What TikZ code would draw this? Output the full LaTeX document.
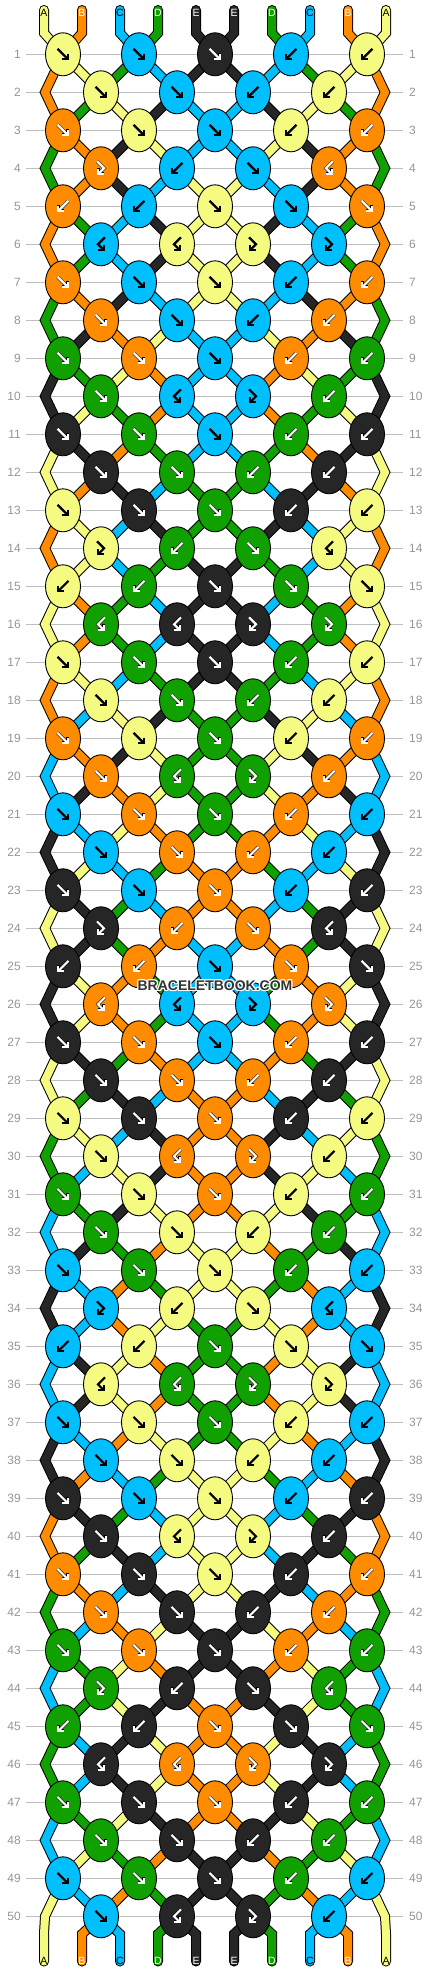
\documentclass[tikz,border=0pt]{standalone}
\usepackage{fontspec}
\setmainfont{Liberation Sans}
\usetikzlibrary{arrows.meta,shapes.geometric,calc}
\definecolor{cY}{RGB}{245,250,128}
\definecolor{cO}{RGB}{255,140,0}
\definecolor{cC}{RGB}{0,191,255}
\definecolor{cG}{RGB}{16,160,0}
\definecolor{cK}{RGB}{38,38,38}
\definecolor{rowgray}{RGB}{190,190,190}
\definecolor{numgray}{RGB}{150,150,150}
\def\rowsep{38}
\def\knotsep{76}
\tikzset{
	every node/.style={
		font=\fontsize{12}{14}\selectfont
	},
	knot/.style={
		shape=ellipse,
		draw=black,
		line width=0.9pt,
		minimum width=35pt,
		minimum height=43pt,
		inner sep=0pt
	},
	strand/.style={
		line width=1pt,
		double distance=8pt,
		line join=miter,
		line cap=round
	},
	arr/.style={
		line width=2.2pt,
		line join=miter,
		-{Straight Barb[length=4pt,width=8pt]}
	},
	inkY/.style={draw=black},
	inkC/.style={draw=black},
	inkO/.style={draw=white, preaction={draw=black, line width=3.2pt}},
	inkG/.style={draw=white, preaction={draw=black, line width=3.2pt}},
	inkK/.style={draw=white, preaction={draw=black, line width=3.2pt}},
	rowline/.style={draw=rowgray, line width=1pt},
	rownum/.style={text=numgray, inner sep=0pt},
	tag/.style={font=\fontsize{10.5}{12}\selectfont, inner sep=0pt},
	stamp/.style={font=\bfseries\fontsize{14}{16}\selectfont, inner sep=0pt}
}
\def\mirf{b}\def\mirb{f}\def\mirF{B}\def\mirB{F}
\newcommand\arrf[2]{\draw[arr,#2,shift={(#1)}] (-5.5,-5.5) -- (6,6);}
\newcommand\arrb[2]{\draw[arr,#2,shift={(#1)}] (5.5,-5.5) -- (-6,6);}
\newcommand\arrF[2]{\draw[arr,#2,shift={(#1)}] (-4,-7) -- (3,0) -- (-4,7);}
\newcommand\arrB[2]{\draw[arr,#2,shift={(#1)}] (4,-7) -- (-3,0) -- (4,7);}
\newcommand\drawknot[3]{%
	\node[knot, fill=c#2] (K-#1) at (P-#1) {};
	\csname arr#3\endcsname{K-#1}{ink#2}}

\begin{document}
\begin{tikzpicture}[x=1pt, y=-1pt]
	\path[use as bounding box, fill=white] (0,0) rectangle (430,1972);
	
	\foreach \p in {1,...,10}{
		\coordinate (T-\p) at (38*\p+6, 10);
		\coordinate (P-0-\p) at (38*\p+6, 33);
		\coordinate (P-51-\p) at (38*\p+6, 1934);
		\coordinate (B-\p) at (38*\p+6, 1961.5);
	}
	\foreach \row in {1,...,50}
	\foreach \p in {1,...,10}{
		\pgfmathsetmacro\px{mod(\row,2)==1 ? 215+(ceil(\p/2)-3)*\knotsep : (\p==1 ? 45 : (\p==10 ? 385 : 215+(floor(\p/2)-2.5)*\knotsep))}
		\coordinate (P-\row-\p) at (\px, 16.3+\rowsep*\row);
	}
	
	\foreach \row in {1,...,50}{
		\node[rownum, anchor=east] (L-\row) at (21, 16.3+\rowsep*\row) {\row};
		\node[rownum, anchor=west] (R-\row) at (409, 16.3+\rowsep*\row) {\row};
		\draw[rowline] ([xshift=5pt]L-\row.east) -- ([xshift=-6pt]R-\row.west);
	}
	
	\foreach \col/\s/\seq [evaluate=\s as \m using int(11-\s)] in {
		cY/1/{1,2,3,4,5,5,5,5,4,3,2,1,1,2,2,1,1,2,3,4,4,3,2,1,1,2,2,1,1,2,3,4,5,5,4,3,3,4,5,5,5,5,4,3,3,4,4,3,2,1,1},
		cO/2/{2,1,1,2,2,1,1,2,3,4,4,3,2,1,1,2,2,1,1,2,3,4,5,5,4,3,3,4,5,5,5,5,4,3,3,4,4,3,2,1,1,2,3,4,5,5,5,5,4,3,2},
		cC/3/{3,4,5,5,4,3,3,4,5,5,5,5,4,3,3,4,4,3,2,1,1,2,3,4,5,5,5,5,4,3,2,1,1,2,2,1,1,2,3,4,4,3,2,1,1,2,2,1,1,2,3},
		cG/4/{4,3,2,1,1,2,2,1,1,2,3,4,5,5,4,3,3,4,5,5,5,5,4,3,3,4,4,3,2,1,1,2,3,4,5,5,5,5,4,3,2,1,1,2,2,1,1,2,3,4,4},
		cK/5/{5,5,4,3,3,4,4,3,2,1,1,2,3,4,5,5,5,5,4,3,2,1,1,2,2,1,1,2,3,4,4,3,2,1,1,2,2,1,1,2,3,4,5,5,4,3,3,4,5,5,5}}{
		\draw[strand, double=\col] (T-\s) \foreach \p [count=\row from 0] in \seq {-- (P-\row-\p)} -- (P-51-\s) -- (B-\s);
		\draw[strand, double=\col] (T-\m) \foreach \p [count=\row from 0, evaluate=\p as \q using int(11-\p)] in \seq {-- (P-\row-\q)} -- (P-51-\m) -- (B-\m);
	}
	
	\foreach \row/\ka/\ta/\kb/\tb/\kc in {
		1/Y/f/C/f/K, 2/Y/f/C/f/-, 3/O/f/Y/f/C, 4/O/F/C/b/-, 5/O/b/C/b/Y,
		6/C/B/Y/B/-, 7/O/f/C/f/Y, 8/O/f/C/f/-, 9/G/f/O/f/C, 10/G/f/C/B/-,
		11/K/f/G/f/C, 12/K/f/G/f/-, 13/Y/f/K/f/G, 14/Y/F/G/b/-, 15/Y/b/G/b/K,
		16/G/B/K/B/-, 17/Y/f/G/f/K, 18/Y/f/G/f/-, 19/O/f/Y/f/G, 20/O/f/G/B/-,
		21/C/f/O/f/G, 22/C/f/O/f/-, 23/K/f/C/f/O, 24/K/F/O/b/-, 25/K/b/O/b/C,
		26/O/B/C/B/-, 27/K/f/O/f/C, 28/K/f/O/f/-, 29/Y/f/K/f/O, 30/Y/f/O/B/-,
		31/G/f/Y/f/O, 32/G/f/Y/f/-, 33/C/f/G/f/Y, 34/C/F/Y/b/-, 35/C/b/Y/b/G,
		36/Y/B/G/B/-, 37/C/f/Y/f/G, 38/C/f/Y/f/-, 39/K/f/C/f/Y, 40/K/f/Y/B/-,
		41/O/f/K/f/Y, 42/O/f/K/f/-, 43/G/f/O/f/K, 44/G/F/K/b/-, 45/G/b/K/b/O,
		46/K/B/O/B/-, 47/G/f/K/f/O, 48/G/f/K/f/-, 49/C/f/G/f/K, 50/C/f/K/B/-}{
		\ifodd\row\relax \def\pa{1}\def\pb{3}\def\qa{9}\def\qb{7}\else \def\pa{2}\def\pb{4}\def\qa{8}\def\qb{6}\fi
		\edef\knotcall{\noexpand\drawknot{\row-\pa}{\ka}{\ta}}\knotcall
		\edef\knotcall{\noexpand\drawknot{\row-\pb}{\kb}{\tb}}\knotcall
		\edef\knotcall{\noexpand\drawknot{\row-\qb}{\kb}{\csname mir\tb\endcsname}}\knotcall
		\edef\knotcall{\noexpand\drawknot{\row-\qa}{\ka}{\csname mir\ta\endcsname}}\knotcall
		\ifodd\row\relax \edef\knotcall{\noexpand\drawknot{\row-5}{\kc}{f}}\knotcall\fi
	}
	
	\foreach \p/\lbl/\ink in {1/A/black, 2/B/white, 3/C/black, 4/D/white, 5/E/white, 6/E/white, 7/D/white, 8/C/black, 9/B/white, 10/A/black}{
		\node[tag, text=\ink, yshift=-2.5pt] (top-\p) at (T-\p) {\lbl};
		\node[tag, text=\ink, yshift=1pt] (bot-\p) at (B-\p) {\lbl};
	}
	
	\foreach \dx/\dy [count=\i] in {1/0,-1/0,0/1,0/-1,1/1,1/-1,-1/1,-1/-1}
	\node[stamp, text=white] (halo-\i) at (215+\dx, 986+\dy) {BRACELETBOOK.COM};
	\node[stamp, text=black!80] (stamp) at (215,986) {BRACELETBOOK.COM};
\end{tikzpicture}
\end{document}
